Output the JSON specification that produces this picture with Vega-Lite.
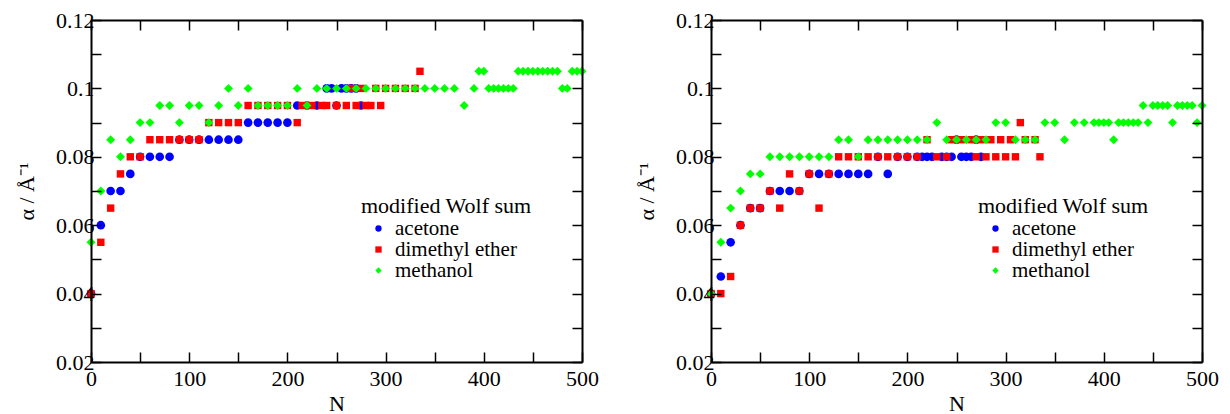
{
"$schema": "https://vega.github.io/schema/vega-lite/v6.json",
"padding": {"left": 15, "top": 9, "right": 5, "bottom": 0},
"spacing": 36,
"config": {
  "view": {"stroke": null},
  "font": "Liberation Serif",
  "axis": {"labelFont": "Liberation Serif", "labelFontSize": 22, "labelColor": "black", "labelPadding": 7,
    "titleFont": "Liberation Serif", "titleFontSize": 22, "titleFontWeight": "normal", "titleColor": "black",
    "grid": false, "labelOverlap": false, "labelFlush": false},
  "legend": {"orient": "none", "legendY": 176, "titleFont": "Liberation Serif", "titleFontSize": 22,
    "titleFontWeight": "normal", "titleColor": "black", "labelFont": "Liberation Serif", "labelFontSize": 21, "labelColor": "black",
    "symbolSize": 40, "rowPadding": -1, "labelOffset": 6, "symbolOffset": 7, "padding": 0, "titlePadding": 0, "symbolStrokeWidth": 0}
},
"datasets": {
 "d": [
{"p":"L","s":"acetone","N":0,"a":0.04},{"p":"L","s":"acetone","N":10,"a":0.06},{"p":"L","s":"acetone","N":20,"a":0.07},{"p":"L","s":"acetone","N":30,"a":0.07},{"p":"L","s":"acetone","N":40,"a":0.075},{"p":"L","s":"acetone","N":50,"a":0.08},{"p":"L","s":"acetone","N":60,"a":0.08},{"p":"L","s":"acetone","N":70,"a":0.08},{"p":"L","s":"acetone","N":80,"a":0.08},{"p":"L","s":"acetone","N":90,"a":0.085},{"p":"L","s":"acetone","N":100,"a":0.085},{"p":"L","s":"acetone","N":110,"a":0.085},{"p":"L","s":"acetone","N":120,"a":0.085},{"p":"L","s":"acetone","N":130,"a":0.085},{"p":"L","s":"acetone","N":140,"a":0.085},{"p":"L","s":"acetone","N":150,"a":0.085},{"p":"L","s":"acetone","N":160,"a":0.09},{"p":"L","s":"acetone","N":170,"a":0.09},{"p":"L","s":"acetone","N":180,"a":0.09},{"p":"L","s":"acetone","N":190,"a":0.09},{"p":"L","s":"acetone","N":200,"a":0.09},{"p":"L","s":"acetone","N":210,"a":0.095},{"p":"L","s":"acetone","N":220,"a":0.095},{"p":"L","s":"acetone","N":230,"a":0.095},{"p":"L","s":"acetone","N":240,"a":0.1},{"p":"L","s":"acetone","N":245,"a":0.1},{"p":"L","s":"acetone","N":250,"a":0.095},{"p":"L","s":"acetone","N":255,"a":0.1},{"p":"L","s":"acetone","N":260,"a":0.1},{"p":"L","s":"acetone","N":265,"a":0.1},{"p":"L","s":"acetone","N":270,"a":0.1},{"p":"L","s":"acetone","N":275,"a":0.095},
{"p":"L","s":"dimethyl ether","N":0,"a":0.04},{"p":"L","s":"dimethyl ether","N":10,"a":0.055},{"p":"L","s":"dimethyl ether","N":20,"a":0.065},{"p":"L","s":"dimethyl ether","N":30,"a":0.075},{"p":"L","s":"dimethyl ether","N":40,"a":0.08},{"p":"L","s":"dimethyl ether","N":50,"a":0.08},{"p":"L","s":"dimethyl ether","N":60,"a":0.085},{"p":"L","s":"dimethyl ether","N":70,"a":0.085},{"p":"L","s":"dimethyl ether","N":80,"a":0.085},{"p":"L","s":"dimethyl ether","N":90,"a":0.085},{"p":"L","s":"dimethyl ether","N":100,"a":0.085},{"p":"L","s":"dimethyl ether","N":110,"a":0.085},{"p":"L","s":"dimethyl ether","N":120,"a":0.09},{"p":"L","s":"dimethyl ether","N":130,"a":0.09},{"p":"L","s":"dimethyl ether","N":140,"a":0.09},{"p":"L","s":"dimethyl ether","N":150,"a":0.09},{"p":"L","s":"dimethyl ether","N":160,"a":0.095},{"p":"L","s":"dimethyl ether","N":170,"a":0.095},{"p":"L","s":"dimethyl ether","N":180,"a":0.095},{"p":"L","s":"dimethyl ether","N":190,"a":0.095},{"p":"L","s":"dimethyl ether","N":200,"a":0.095},{"p":"L","s":"dimethyl ether","N":210,"a":0.09},{"p":"L","s":"dimethyl ether","N":215,"a":0.095},{"p":"L","s":"dimethyl ether","N":225,"a":0.095},{"p":"L","s":"dimethyl ether","N":235,"a":0.095},{"p":"L","s":"dimethyl ether","N":240,"a":0.095},{"p":"L","s":"dimethyl ether","N":250,"a":0.095},{"p":"L","s":"dimethyl ether","N":260,"a":0.095},{"p":"L","s":"dimethyl ether","N":265,"a":0.1},{"p":"L","s":"dimethyl ether","N":270,"a":0.095},{"p":"L","s":"dimethyl ether","N":275,"a":0.1},{"p":"L","s":"dimethyl ether","N":280,"a":0.095},{"p":"L","s":"dimethyl ether","N":285,"a":0.095},{"p":"L","s":"dimethyl ether","N":290,"a":0.1},{"p":"L","s":"dimethyl ether","N":295,"a":0.095},{"p":"L","s":"dimethyl ether","N":300,"a":0.1},{"p":"L","s":"dimethyl ether","N":310,"a":0.1},{"p":"L","s":"dimethyl ether","N":320,"a":0.1},{"p":"L","s":"dimethyl ether","N":330,"a":0.1},{"p":"L","s":"dimethyl ether","N":335,"a":0.105},
{"p":"L","s":"methanol","N":0,"a":0.055},{"p":"L","s":"methanol","N":10,"a":0.07},{"p":"L","s":"methanol","N":20,"a":0.085},{"p":"L","s":"methanol","N":30,"a":0.08},{"p":"L","s":"methanol","N":40,"a":0.085},{"p":"L","s":"methanol","N":50,"a":0.09},{"p":"L","s":"methanol","N":60,"a":0.09},{"p":"L","s":"methanol","N":70,"a":0.095},{"p":"L","s":"methanol","N":80,"a":0.095},{"p":"L","s":"methanol","N":90,"a":0.09},{"p":"L","s":"methanol","N":100,"a":0.095},{"p":"L","s":"methanol","N":110,"a":0.095},{"p":"L","s":"methanol","N":120,"a":0.09},{"p":"L","s":"methanol","N":130,"a":0.095},{"p":"L","s":"methanol","N":140,"a":0.1},{"p":"L","s":"methanol","N":150,"a":0.095},{"p":"L","s":"methanol","N":160,"a":0.1},{"p":"L","s":"methanol","N":170,"a":0.095},{"p":"L","s":"methanol","N":180,"a":0.095},{"p":"L","s":"methanol","N":190,"a":0.095},{"p":"L","s":"methanol","N":200,"a":0.095},{"p":"L","s":"methanol","N":210,"a":0.1},{"p":"L","s":"methanol","N":220,"a":0.095},{"p":"L","s":"methanol","N":230,"a":0.1},{"p":"L","s":"methanol","N":240,"a":0.1},{"p":"L","s":"methanol","N":250,"a":0.1},{"p":"L","s":"methanol","N":260,"a":0.1},{"p":"L","s":"methanol","N":270,"a":0.1},{"p":"L","s":"methanol","N":280,"a":0.1},{"p":"L","s":"methanol","N":290,"a":0.1},{"p":"L","s":"methanol","N":300,"a":0.1},{"p":"L","s":"methanol","N":310,"a":0.1},{"p":"L","s":"methanol","N":320,"a":0.1},{"p":"L","s":"methanol","N":330,"a":0.1},{"p":"L","s":"methanol","N":340,"a":0.1},{"p":"L","s":"methanol","N":350,"a":0.1},{"p":"L","s":"methanol","N":360,"a":0.1},{"p":"L","s":"methanol","N":370,"a":0.1},{"p":"L","s":"methanol","N":380,"a":0.095},{"p":"L","s":"methanol","N":390,"a":0.1},{"p":"L","s":"methanol","N":395,"a":0.105},{"p":"L","s":"methanol","N":400,"a":0.105},{"p":"L","s":"methanol","N":405,"a":0.1},{"p":"L","s":"methanol","N":410,"a":0.1},{"p":"L","s":"methanol","N":415,"a":0.1},{"p":"L","s":"methanol","N":420,"a":0.1},{"p":"L","s":"methanol","N":425,"a":0.1},{"p":"L","s":"methanol","N":430,"a":0.1},{"p":"L","s":"methanol","N":435,"a":0.105},{"p":"L","s":"methanol","N":440,"a":0.105},{"p":"L","s":"methanol","N":445,"a":0.105},{"p":"L","s":"methanol","N":450,"a":0.105},{"p":"L","s":"methanol","N":455,"a":0.105},{"p":"L","s":"methanol","N":460,"a":0.105},{"p":"L","s":"methanol","N":465,"a":0.105},{"p":"L","s":"methanol","N":470,"a":0.105},{"p":"L","s":"methanol","N":475,"a":0.105},{"p":"L","s":"methanol","N":480,"a":0.1},{"p":"L","s":"methanol","N":485,"a":0.1},{"p":"L","s":"methanol","N":490,"a":0.105},{"p":"L","s":"methanol","N":495,"a":0.105},{"p":"L","s":"methanol","N":500,"a":0.105},
{"p":"R","s":"acetone","N":0,"a":0.04},{"p":"R","s":"acetone","N":10,"a":0.045},{"p":"R","s":"acetone","N":20,"a":0.055},{"p":"R","s":"acetone","N":30,"a":0.06},{"p":"R","s":"acetone","N":40,"a":0.065},{"p":"R","s":"acetone","N":50,"a":0.065},{"p":"R","s":"acetone","N":60,"a":0.07},{"p":"R","s":"acetone","N":70,"a":0.07},{"p":"R","s":"acetone","N":80,"a":0.07},{"p":"R","s":"acetone","N":90,"a":0.07},{"p":"R","s":"acetone","N":100,"a":0.075},{"p":"R","s":"acetone","N":110,"a":0.075},{"p":"R","s":"acetone","N":120,"a":0.075},{"p":"R","s":"acetone","N":130,"a":0.075},{"p":"R","s":"acetone","N":140,"a":0.075},{"p":"R","s":"acetone","N":150,"a":0.075},{"p":"R","s":"acetone","N":160,"a":0.075},{"p":"R","s":"acetone","N":170,"a":0.08},{"p":"R","s":"acetone","N":180,"a":0.075},{"p":"R","s":"acetone","N":190,"a":0.08},{"p":"R","s":"acetone","N":200,"a":0.08},{"p":"R","s":"acetone","N":210,"a":0.08},{"p":"R","s":"acetone","N":215,"a":0.08},{"p":"R","s":"acetone","N":220,"a":0.08},{"p":"R","s":"acetone","N":225,"a":0.08},{"p":"R","s":"acetone","N":235,"a":0.08},{"p":"R","s":"acetone","N":240,"a":0.08},{"p":"R","s":"acetone","N":245,"a":0.08},{"p":"R","s":"acetone","N":250,"a":0.085},{"p":"R","s":"acetone","N":255,"a":0.08},{"p":"R","s":"acetone","N":260,"a":0.08},{"p":"R","s":"acetone","N":265,"a":0.08},{"p":"R","s":"acetone","N":270,"a":0.085},{"p":"R","s":"acetone","N":275,"a":0.08},
{"p":"R","s":"dimethyl ether","N":0,"a":0.04},{"p":"R","s":"dimethyl ether","N":10,"a":0.04},{"p":"R","s":"dimethyl ether","N":20,"a":0.045},{"p":"R","s":"dimethyl ether","N":30,"a":0.06},{"p":"R","s":"dimethyl ether","N":40,"a":0.065},{"p":"R","s":"dimethyl ether","N":50,"a":0.065},{"p":"R","s":"dimethyl ether","N":60,"a":0.07},{"p":"R","s":"dimethyl ether","N":70,"a":0.065},{"p":"R","s":"dimethyl ether","N":80,"a":0.075},{"p":"R","s":"dimethyl ether","N":90,"a":0.07},{"p":"R","s":"dimethyl ether","N":100,"a":0.075},{"p":"R","s":"dimethyl ether","N":110,"a":0.065},{"p":"R","s":"dimethyl ether","N":120,"a":0.075},{"p":"R","s":"dimethyl ether","N":130,"a":0.08},{"p":"R","s":"dimethyl ether","N":140,"a":0.08},{"p":"R","s":"dimethyl ether","N":150,"a":0.08},{"p":"R","s":"dimethyl ether","N":160,"a":0.08},{"p":"R","s":"dimethyl ether","N":170,"a":0.08},{"p":"R","s":"dimethyl ether","N":180,"a":0.08},{"p":"R","s":"dimethyl ether","N":190,"a":0.08},{"p":"R","s":"dimethyl ether","N":200,"a":0.08},{"p":"R","s":"dimethyl ether","N":210,"a":0.08},{"p":"R","s":"dimethyl ether","N":220,"a":0.085},{"p":"R","s":"dimethyl ether","N":230,"a":0.08},{"p":"R","s":"dimethyl ether","N":240,"a":0.08},{"p":"R","s":"dimethyl ether","N":245,"a":0.085},{"p":"R","s":"dimethyl ether","N":255,"a":0.085},{"p":"R","s":"dimethyl ether","N":265,"a":0.085},{"p":"R","s":"dimethyl ether","N":270,"a":0.08},{"p":"R","s":"dimethyl ether","N":275,"a":0.085},{"p":"R","s":"dimethyl ether","N":280,"a":0.08},{"p":"R","s":"dimethyl ether","N":285,"a":0.085},{"p":"R","s":"dimethyl ether","N":290,"a":0.08},{"p":"R","s":"dimethyl ether","N":295,"a":0.085},{"p":"R","s":"dimethyl ether","N":300,"a":0.08},{"p":"R","s":"dimethyl ether","N":305,"a":0.085},{"p":"R","s":"dimethyl ether","N":310,"a":0.08},{"p":"R","s":"dimethyl ether","N":315,"a":0.09},{"p":"R","s":"dimethyl ether","N":320,"a":0.085},{"p":"R","s":"dimethyl ether","N":330,"a":0.085},{"p":"R","s":"dimethyl ether","N":335,"a":0.08},
{"p":"R","s":"methanol","N":0,"a":0.04},{"p":"R","s":"methanol","N":10,"a":0.055},{"p":"R","s":"methanol","N":20,"a":0.065},{"p":"R","s":"methanol","N":30,"a":0.07},{"p":"R","s":"methanol","N":40,"a":0.075},{"p":"R","s":"methanol","N":50,"a":0.075},{"p":"R","s":"methanol","N":60,"a":0.08},{"p":"R","s":"methanol","N":70,"a":0.08},{"p":"R","s":"methanol","N":80,"a":0.08},{"p":"R","s":"methanol","N":90,"a":0.08},{"p":"R","s":"methanol","N":100,"a":0.08},{"p":"R","s":"methanol","N":110,"a":0.08},{"p":"R","s":"methanol","N":120,"a":0.08},{"p":"R","s":"methanol","N":130,"a":0.085},{"p":"R","s":"methanol","N":140,"a":0.085},{"p":"R","s":"methanol","N":150,"a":0.08},{"p":"R","s":"methanol","N":160,"a":0.085},{"p":"R","s":"methanol","N":170,"a":0.085},{"p":"R","s":"methanol","N":180,"a":0.085},{"p":"R","s":"methanol","N":190,"a":0.085},{"p":"R","s":"methanol","N":200,"a":0.085},{"p":"R","s":"methanol","N":210,"a":0.085},{"p":"R","s":"methanol","N":220,"a":0.085},{"p":"R","s":"methanol","N":230,"a":0.09},{"p":"R","s":"methanol","N":240,"a":0.085},{"p":"R","s":"methanol","N":250,"a":0.085},{"p":"R","s":"methanol","N":260,"a":0.085},{"p":"R","s":"methanol","N":270,"a":0.085},{"p":"R","s":"methanol","N":280,"a":0.085},{"p":"R","s":"methanol","N":290,"a":0.09},{"p":"R","s":"methanol","N":300,"a":0.09},{"p":"R","s":"methanol","N":310,"a":0.085},{"p":"R","s":"methanol","N":320,"a":0.085},{"p":"R","s":"methanol","N":330,"a":0.085},{"p":"R","s":"methanol","N":340,"a":0.09},{"p":"R","s":"methanol","N":350,"a":0.09},{"p":"R","s":"methanol","N":360,"a":0.085},{"p":"R","s":"methanol","N":370,"a":0.09},{"p":"R","s":"methanol","N":380,"a":0.09},{"p":"R","s":"methanol","N":390,"a":0.09},{"p":"R","s":"methanol","N":395,"a":0.09},{"p":"R","s":"methanol","N":400,"a":0.09},{"p":"R","s":"methanol","N":405,"a":0.09},{"p":"R","s":"methanol","N":410,"a":0.085},{"p":"R","s":"methanol","N":415,"a":0.09},{"p":"R","s":"methanol","N":420,"a":0.09},{"p":"R","s":"methanol","N":425,"a":0.09},{"p":"R","s":"methanol","N":430,"a":0.09},{"p":"R","s":"methanol","N":435,"a":0.09},{"p":"R","s":"methanol","N":440,"a":0.095},{"p":"R","s":"methanol","N":445,"a":0.09},{"p":"R","s":"methanol","N":450,"a":0.095},{"p":"R","s":"methanol","N":455,"a":0.095},{"p":"R","s":"methanol","N":460,"a":0.095},{"p":"R","s":"methanol","N":465,"a":0.095},{"p":"R","s":"methanol","N":470,"a":0.09},{"p":"R","s":"methanol","N":475,"a":0.095},{"p":"R","s":"methanol","N":480,"a":0.095},{"p":"R","s":"methanol","N":485,"a":0.095},{"p":"R","s":"methanol","N":490,"a":0.095},{"p":"R","s":"methanol","N":495,"a":0.09},{"p":"R","s":"methanol","N":500,"a":0.095}
 ]
},
"data": {"name": "d"},
"resolve": {"scale": {"color": "independent", "shape": "independent"}},
"hconcat": [
 {
  "width": 491, "height": 342,
  "transform": [{"filter": "datum.p == 'L'"}],
  "layer": [
   {"transform": [{"filter": "datum.s == 'acetone'"}],
    "mark": {"type": "point", "filled": true, "size": 75, "opacity": 1, "strokeWidth": 0},
    "encoding": {
     "x": {"field": "N", "type": "quantitative", "scale": {"domain": [0, 500], "nice": false, "zero": false},
       "axis": {"orient": "bottom", "zindex": 2, "domain": true, "ticks": true, "domainColor": "black", "domainWidth": 2, "tickColor": "black", "tickWidth": 1.5, "tickSize": -10, "title": "N", "titlePadding": 4, "labelPadding": 16, "values": [0,50,100,150,200,250,300,350,400,450,500], "format": "d", "labelExpr": "datum.value % 100 == 0 ? datum.label : ''", "encode": {"ticks": {"update": {"y2": {"signal": "datum.value % 100 == 0 ? -10 : -5"}}}}}},
     "y": {"field": "a", "type": "quantitative", "scale": {"domain": [0.02, 0.12], "nice": false, "zero": false},
       "axis": {"orient": "left", "zindex": 2, "domain": true, "ticks": true, "domainColor": "black", "domainWidth": 2, "tickColor": "black", "tickWidth": 1.5, "tickSize": -10, "title": "α / Å⁻¹", "titlePadding": 17, "values": [0.02,0.03,0.04,0.05,0.06,0.07,0.08,0.09,0.1,0.11,0.12], "format": "~g", "labelExpr": "round(datum.value*100) % 2 == 0 ? datum.label : ''", "encode": {"ticks": {"update": {"x2": {"signal": "round(datum.value*100) % 2 == 0 ? 10 : 5"}}}}}},
     "color": {"field": "s", "type": "nominal", "scale": {"domain": ["acetone", "dimethyl ether", "methanol"], "range": ["#0000ff", "#ff0000", "#00ff00"]}, "legend": {"title": "modified Wolf sum", "legendX": 270}},
     "shape": {"field": "s", "type": "nominal", "scale": {"domain": ["acetone", "dimethyl ether", "methanol"], "range": ["circle", "square", "diamond"]}, "legend": {"title": "modified Wolf sum", "legendX": 270}}
    }},
   {"transform": [{"filter": "datum.s == 'dimethyl ether'"}],
    "mark": {"type": "point", "filled": true, "size": 55, "opacity": 1, "strokeWidth": 0},
    "encoding": {
     "x": {"field": "N", "type": "quantitative", "scale": {"domain": [0, 500], "nice": false, "zero": false},
       "axis": {"orient": "top", "zindex": 2, "domain": true, "ticks": true, "domainColor": "black", "domainWidth": 2, "tickColor": "black", "tickWidth": 1.5, "tickSize": -10, "title": null, "labels": false, "values": [0,50,100,150,200,250,300,350,400,450,500], "encode": {"ticks": {"update": {"y2": {"signal": "datum.value % 100 == 0 ? 10 : 5"}}}}}},
     "y": {"field": "a", "type": "quantitative", "scale": {"domain": [0.02, 0.12], "nice": false, "zero": false},
       "axis": {"orient": "right", "zindex": 2, "domain": true, "ticks": true, "domainColor": "black", "domainWidth": 2, "tickColor": "black", "tickWidth": 1.5, "tickSize": -10, "title": null, "labels": false, "values": [0.02,0.03,0.04,0.05,0.06,0.07,0.08,0.09,0.1,0.11,0.12], "encode": {"ticks": {"update": {"x2": {"signal": "round(datum.value*100) % 2 == 0 ? -10 : -5"}}}}}},
     "color": {"field": "s", "type": "nominal", "scale": {"domain": ["acetone", "dimethyl ether", "methanol"], "range": ["#0000ff", "#ff0000", "#00ff00"]}, "legend": {"title": "modified Wolf sum", "legendX": 270}},
     "shape": {"field": "s", "type": "nominal", "scale": {"domain": ["acetone", "dimethyl ether", "methanol"], "range": ["circle", "square", "diamond"]}, "legend": {"title": "modified Wolf sum", "legendX": 270}}
    }},
   {"transform": [{"filter": "datum.s == 'methanol'"}],
    "mark": {"type": "point", "filled": true, "size": 80, "opacity": 1, "strokeWidth": 0},
    "encoding": {
     "x": {"field": "N", "type": "quantitative", "scale": {"domain": [0, 500], "nice": false, "zero": false}, "axis": null},
     "y": {"field": "a", "type": "quantitative", "scale": {"domain": [0.02, 0.12], "nice": false, "zero": false}, "axis": null},
     "color": {"field": "s", "type": "nominal", "scale": {"domain": ["acetone", "dimethyl ether", "methanol"], "range": ["#0000ff", "#ff0000", "#00ff00"]}, "legend": {"title": "modified Wolf sum", "legendX": 270}},
     "shape": {"field": "s", "type": "nominal", "scale": {"domain": ["acetone", "dimethyl ether", "methanol"], "range": ["circle", "square", "diamond"]}, "legend": {"title": "modified Wolf sum", "legendX": 270}}
    }}
  ],
  "resolve": {"axis": {"x": "independent", "y": "independent"}}
 },
 {
  "width": 491, "height": 342,
  "transform": [{"filter": "datum.p == 'R'"}],
  "layer": [
   {"transform": [{"filter": "datum.s == 'acetone'"}],
    "mark": {"type": "point", "filled": true, "size": 75, "opacity": 1, "strokeWidth": 0},
    "encoding": {
     "x": {"field": "N", "type": "quantitative", "scale": {"domain": [0, 500], "nice": false, "zero": false},
       "axis": {"orient": "bottom", "zindex": 2, "domain": true, "ticks": true, "domainColor": "black", "domainWidth": 2, "tickColor": "black", "tickWidth": 1.5, "tickSize": -10, "title": "N", "titlePadding": 4, "labelPadding": 16, "values": [0,50,100,150,200,250,300,350,400,450,500], "format": "d", "labelExpr": "datum.value % 100 == 0 ? datum.label : ''", "encode": {"ticks": {"update": {"y2": {"signal": "datum.value % 100 == 0 ? -10 : -5"}}}}}},
     "y": {"field": "a", "type": "quantitative", "scale": {"domain": [0.02, 0.12], "nice": false, "zero": false},
       "axis": {"orient": "left", "zindex": 2, "domain": true, "ticks": true, "domainColor": "black", "domainWidth": 2, "tickColor": "black", "tickWidth": 1.5, "tickSize": -10, "title": "α / Å⁻¹", "titlePadding": 17, "values": [0.02,0.03,0.04,0.05,0.06,0.07,0.08,0.09,0.1,0.11,0.12], "format": "~g", "labelExpr": "round(datum.value*100) % 2 == 0 ? datum.label : ''", "encode": {"ticks": {"update": {"x2": {"signal": "round(datum.value*100) % 2 == 0 ? 10 : 5"}}}}}},
     "color": {"field": "s", "type": "nominal", "scale": {"domain": ["acetone", "dimethyl ether", "methanol"], "range": ["#0000ff", "#ff0000", "#00ff00"]}, "legend": {"title": "modified Wolf sum", "legendX": 267}},
     "shape": {"field": "s", "type": "nominal", "scale": {"domain": ["acetone", "dimethyl ether", "methanol"], "range": ["circle", "square", "diamond"]}, "legend": {"title": "modified Wolf sum", "legendX": 267}}
    }},
   {"transform": [{"filter": "datum.s == 'dimethyl ether'"}],
    "mark": {"type": "point", "filled": true, "size": 55, "opacity": 1, "strokeWidth": 0},
    "encoding": {
     "x": {"field": "N", "type": "quantitative", "scale": {"domain": [0, 500], "nice": false, "zero": false},
       "axis": {"orient": "top", "zindex": 2, "domain": true, "ticks": true, "domainColor": "black", "domainWidth": 2, "tickColor": "black", "tickWidth": 1.5, "tickSize": -10, "title": null, "labels": false, "values": [0,50,100,150,200,250,300,350,400,450,500], "encode": {"ticks": {"update": {"y2": {"signal": "datum.value % 100 == 0 ? 10 : 5"}}}}}},
     "y": {"field": "a", "type": "quantitative", "scale": {"domain": [0.02, 0.12], "nice": false, "zero": false},
       "axis": {"orient": "right", "zindex": 2, "domain": true, "ticks": true, "domainColor": "black", "domainWidth": 2, "tickColor": "black", "tickWidth": 1.5, "tickSize": -10, "title": null, "labels": false, "values": [0.02,0.03,0.04,0.05,0.06,0.07,0.08,0.09,0.1,0.11,0.12], "encode": {"ticks": {"update": {"x2": {"signal": "round(datum.value*100) % 2 == 0 ? -10 : -5"}}}}}},
     "color": {"field": "s", "type": "nominal", "scale": {"domain": ["acetone", "dimethyl ether", "methanol"], "range": ["#0000ff", "#ff0000", "#00ff00"]}, "legend": {"title": "modified Wolf sum", "legendX": 267}},
     "shape": {"field": "s", "type": "nominal", "scale": {"domain": ["acetone", "dimethyl ether", "methanol"], "range": ["circle", "square", "diamond"]}, "legend": {"title": "modified Wolf sum", "legendX": 267}}
    }},
   {"transform": [{"filter": "datum.s == 'methanol'"}],
    "mark": {"type": "point", "filled": true, "size": 80, "opacity": 1, "strokeWidth": 0},
    "encoding": {
     "x": {"field": "N", "type": "quantitative", "scale": {"domain": [0, 500], "nice": false, "zero": false}, "axis": null},
     "y": {"field": "a", "type": "quantitative", "scale": {"domain": [0.02, 0.12], "nice": false, "zero": false}, "axis": null},
     "color": {"field": "s", "type": "nominal", "scale": {"domain": ["acetone", "dimethyl ether", "methanol"], "range": ["#0000ff", "#ff0000", "#00ff00"]}, "legend": {"title": "modified Wolf sum", "legendX": 267}},
     "shape": {"field": "s", "type": "nominal", "scale": {"domain": ["acetone", "dimethyl ether", "methanol"], "range": ["circle", "square", "diamond"]}, "legend": {"title": "modified Wolf sum", "legendX": 267}}
    }}
  ],
  "resolve": {"axis": {"x": "independent", "y": "independent"}}
 }
]
}
